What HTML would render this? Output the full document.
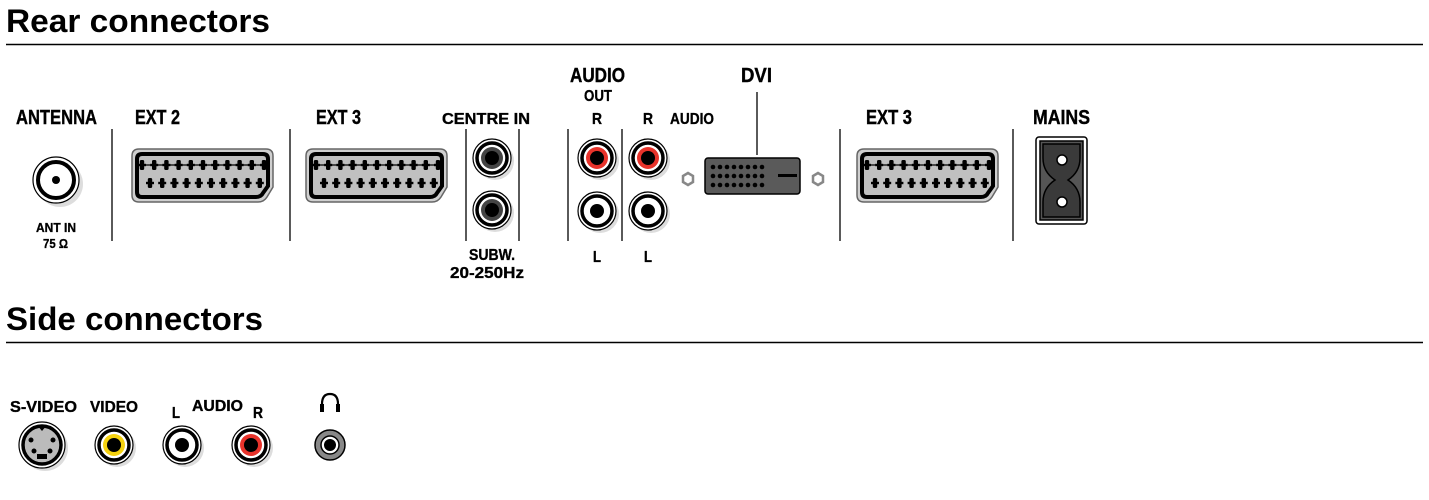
<!DOCTYPE html>
<html><head><meta charset="utf-8"><style>
html,body{margin:0;padding:0;background:#fff;}
svg{display:block;}
text{font-family:"Liberation Sans",sans-serif;font-weight:bold;fill:#000;}
.t{font-size:32px;}
.l{font-size:20px;stroke:#000;stroke-width:0.4;}
.s{font-size:16px;stroke:#000;stroke-width:0.35;}
.xs{font-size:12.5px;stroke:#000;stroke-width:0.3;}
</style></head><body>
<svg width="1429" height="500" viewBox="0 0 1429 500" xmlns="http://www.w3.org/2000/svg">
<defs>
<g id="pinA"><rect x="-2.2" y="-5" width="4.4" height="10" rx="1.5"/><rect x="-4" y="-1.2" width="8" height="2.4"/></g>
<g id="scart">
<path d="M7,0 H134 Q141,0 141,7 V38 L135,48 Q132,53 126,53 H7 Q0,53 0,46 V7 Q0,0 7,0 Z" fill="#cfcfcf" stroke="#666" stroke-width="1.5"/>
<path d="M10,5 H131 Q136,5 136,10 V37 L131,44 Q129,48 124,48 H10 Q5,48 5,43 V10 Q5,5 10,5 Z" fill="#c0c0c0" stroke="#000" stroke-width="4"/>
<line x1="6" y1="16" x2="135" y2="16" stroke="#000" stroke-width="1.2"/>
<g><use href="#pinA" x="10" y="16"/><use href="#pinA" x="22.2" y="16"/><use href="#pinA" x="34.4" y="16"/><use href="#pinA" x="46.6" y="16"/><use href="#pinA" x="58.8" y="16"/><use href="#pinA" x="71" y="16"/><use href="#pinA" x="83.2" y="16"/><use href="#pinA" x="95.4" y="16"/><use href="#pinA" x="107.6" y="16"/><use href="#pinA" x="119.8" y="16"/><use href="#pinA" x="132" y="16"/></g>
<g><use href="#pinA" x="18" y="34"/><use href="#pinA" x="30.2" y="34"/><use href="#pinA" x="42.4" y="34"/><use href="#pinA" x="54.6" y="34"/><use href="#pinA" x="66.8" y="34"/><use href="#pinA" x="79" y="34"/><use href="#pinA" x="91.2" y="34"/><use href="#pinA" x="103.4" y="34"/><use href="#pinA" x="115.6" y="34"/><use href="#pinA" x="127.8" y="34"/></g>
</g>
<g id="rcaW"><circle cx="3" cy="3" r="19" fill="#ddd"/><circle r="19" fill="#fff" stroke="#000" stroke-width="1.2"/><circle r="15" fill="#fff" stroke="#000" stroke-width="3.5"/><circle r="7" fill="#000"/></g>
<g id="rcaR"><circle cx="3" cy="3" r="19" fill="#ddd"/><circle r="19" fill="#fff" stroke="#000" stroke-width="1.2"/><circle r="15" fill="#fff" stroke="#000" stroke-width="3.5"/><circle r="11" fill="#e8332b"/><circle r="7" fill="#000"/></g>
<g id="rcaY"><circle cx="3" cy="3" r="19" fill="#ddd"/><circle r="19" fill="#fff" stroke="#000" stroke-width="1.2"/><circle r="15" fill="#fff" stroke="#000" stroke-width="3.5"/><circle r="11" fill="#f5d20f"/><circle r="7" fill="#000"/></g>
<g id="rcaB"><circle cx="3" cy="3" r="19" fill="#ddd"/><circle r="19" fill="#fff" stroke="#000" stroke-width="1.2"/><circle r="15" fill="#fff" stroke="#000" stroke-width="3.5"/><circle r="11" fill="#444"/><circle r="7" fill="#000"/></g>
<g id="screw"><polygon points="-5,-3 0,-6 5,-3 5,3 0,6 -5,3" fill="#fff" stroke="#888" stroke-width="2.5"/></g>
</defs>

<text x="6" y="32" class="t" textLength="264" lengthAdjust="spacingAndGlyphs">Rear connectors</text>
<line x1="6" y1="44.5" x2="1423" y2="44.5" stroke="#000" stroke-width="1.5"/>

<text x="16" y="124" class="l" textLength="81" lengthAdjust="spacingAndGlyphs">ANTENNA</text>
<text x="135" y="124" class="l" textLength="45" lengthAdjust="spacingAndGlyphs">EXT 2</text>
<text x="316" y="124" class="l" textLength="45" lengthAdjust="spacingAndGlyphs">EXT 3</text>
<text x="442" y="124" class="s" textLength="88" lengthAdjust="spacingAndGlyphs">CENTRE IN</text>
<text x="570" y="82" class="l" textLength="55" lengthAdjust="spacingAndGlyphs">AUDIO</text>
<text x="584" y="101" class="s" textLength="28" lengthAdjust="spacingAndGlyphs">OUT</text>
<text x="592" y="124" class="s" textLength="10" lengthAdjust="spacingAndGlyphs">R</text>
<text x="643" y="124" class="s" textLength="10" lengthAdjust="spacingAndGlyphs">R</text>
<text x="670" y="124" class="s" textLength="44" lengthAdjust="spacingAndGlyphs">AUDIO</text>
<text x="741" y="82" class="l" textLength="31" lengthAdjust="spacingAndGlyphs">DVI</text>
<text x="866" y="124" class="l" textLength="46" lengthAdjust="spacingAndGlyphs">EXT 3</text>
<text x="1033" y="124" class="l" textLength="57" lengthAdjust="spacingAndGlyphs">MAINS</text>
<text x="36" y="232" class="xs" textLength="40" lengthAdjust="spacingAndGlyphs">ANT IN</text>
<text x="43" y="248" class="xs" textLength="25" lengthAdjust="spacingAndGlyphs">75 Ω</text>
<text x="469" y="260" class="s" textLength="46" lengthAdjust="spacingAndGlyphs">SUBW.</text>
<text x="450" y="278" class="s" textLength="74" lengthAdjust="spacingAndGlyphs">20-250Hz</text>
<text x="593" y="262" class="s" textLength="8" lengthAdjust="spacingAndGlyphs">L</text>
<text x="644" y="262" class="s" textLength="8" lengthAdjust="spacingAndGlyphs">L</text>

<g stroke="#000" stroke-width="1.3">
<line x1="112" y1="129" x2="112" y2="241"/>
<line x1="290" y1="129" x2="290" y2="241"/>
<line x1="466" y1="129" x2="466" y2="241"/>
<line x1="519" y1="129" x2="519" y2="241"/>
<line x1="568" y1="129" x2="568" y2="241"/>
<line x1="622" y1="129" x2="622" y2="241"/>
<line x1="840" y1="129" x2="840" y2="241"/>
<line x1="1013" y1="129" x2="1013" y2="241"/>
<line x1="757" y1="92" x2="757" y2="155"/>
</g>

<circle cx="60" cy="184" r="23" fill="#ddd"/>
<circle cx="56" cy="180" r="23" fill="#fff" stroke="#000" stroke-width="1.2"/>
<circle cx="56" cy="180" r="18" fill="#fff" stroke="#000" stroke-width="4"/>
<circle cx="56" cy="180" r="4" fill="#000"/>

<use href="#scart" x="132" y="149"/>
<use href="#scart" x="306" y="149"/>
<use href="#scart" x="857" y="149"/>

<use href="#rcaB" x="492" y="158"/>
<use href="#rcaB" x="492" y="210"/>
<use href="#rcaR" x="597" y="158"/>
<use href="#rcaW" x="597" y="211"/>
<use href="#rcaR" x="648" y="158"/>
<use href="#rcaW" x="648" y="211"/>

<use href="#screw" x="688" y="179"/>
<use href="#screw" x="818" y="179"/>
<rect x="705" y="158" width="95" height="36" rx="3" fill="#5a5a5a" stroke="#000" stroke-width="1.5"/>
<g fill="#000">
<g id="dvirow"><circle cx="713" cy="167" r="2.3"/><circle cx="720" cy="167" r="2.3"/><circle cx="727" cy="167" r="2.3"/><circle cx="734" cy="167" r="2.3"/><circle cx="741" cy="167" r="2.3"/><circle cx="748" cy="167" r="2.3"/><circle cx="755" cy="167" r="2.3"/><circle cx="762" cy="167" r="2.3"/></g>
<use href="#dvirow" y="9"/><use href="#dvirow" y="18"/>
<rect x="778" y="174" width="19" height="3"/>
</g>

<rect x="1036" y="137" width="51" height="87" rx="3" fill="#fff" stroke="#000" stroke-width="1.5"/>
<rect x="1040" y="141" width="43" height="79" fill="#555" stroke="#000" stroke-width="1.5"/>
<path d="M1043,144 H1080 V158 Q1080,172 1068,180 Q1080,188 1080,202 V217 H1043 V202 Q1043,188 1055,180 Q1043,172 1043,158 Z" fill="#3a3a3a" stroke="#000" stroke-width="1.5"/>
<circle cx="1062" cy="160" r="5" fill="#fff" stroke="#000" stroke-width="1.5"/>
<circle cx="1062" cy="202" r="5" fill="#fff" stroke="#000" stroke-width="1.5"/>

<text x="6" y="330" class="t" textLength="257" lengthAdjust="spacingAndGlyphs">Side connectors</text>
<line x1="6" y1="342.5" x2="1423" y2="342.5" stroke="#000" stroke-width="1.5"/>

<text x="10" y="412" class="s" textLength="67" lengthAdjust="spacingAndGlyphs">S-VIDEO</text>
<text x="90" y="412" class="s" textLength="48" lengthAdjust="spacingAndGlyphs">VIDEO</text>
<text x="172" y="418" class="s" textLength="8" lengthAdjust="spacingAndGlyphs">L</text>
<text x="192" y="411" class="s" textLength="51" lengthAdjust="spacingAndGlyphs">AUDIO</text>
<text x="253" y="418" class="s" textLength="10" lengthAdjust="spacingAndGlyphs">R</text>

<path d="M322,411 V404 Q322,394 330,394 Q338,394 338,404 V411" fill="none" stroke="#000" stroke-width="2.2"/>
<rect x="320" y="404" width="4" height="8" fill="#000"/><rect x="336" y="404" width="4" height="8" fill="#000"/>

<circle cx="45" cy="448" r="23" fill="#ddd"/>
<circle cx="42" cy="445" r="23" fill="#fff" stroke="#000" stroke-width="1.2"/>
<circle cx="42" cy="445" r="19" fill="#bbb" stroke="#000" stroke-width="3.5"/>
<polygon points="37,425 47,425 42,431" fill="#000"/>
<circle cx="31" cy="440" r="2.5" fill="#000"/><circle cx="53" cy="440" r="2.5" fill="#000"/>
<circle cx="34" cy="451" r="2.5" fill="#000"/><circle cx="50" cy="451" r="2.5" fill="#000"/>
<rect x="37" y="454" width="10" height="5" fill="#000"/>

<use href="#rcaY" x="114" y="445"/>
<use href="#rcaW" x="182" y="445"/>
<use href="#rcaR" x="251" y="445"/>

<circle cx="330" cy="445" r="15" fill="#888" stroke="#000" stroke-width="1.5"/>
<circle cx="330" cy="445" r="9" fill="#fff" stroke="#000" stroke-width="1.5"/>
<circle cx="330" cy="445" r="6" fill="#000"/>
</svg>
</body></html>
